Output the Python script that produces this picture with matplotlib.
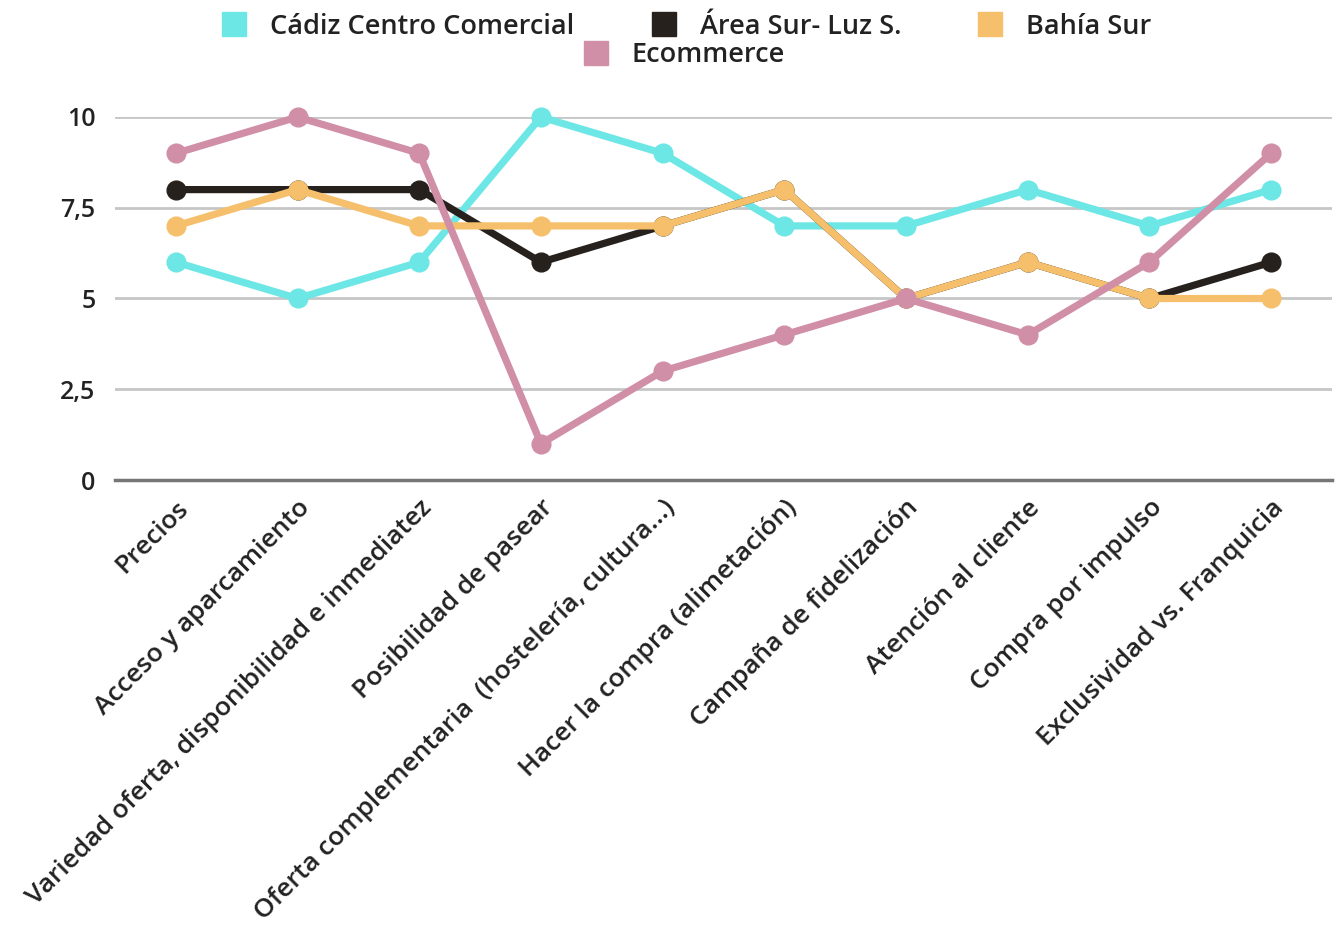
import matplotlib
matplotlib.use("Agg")
import matplotlib.pyplot as plt
from matplotlib.lines import Line2D

categories = [
    "Precios",
    "Acceso y aparcamiento",
    "Variedad oferta, disponibilidad e inmediatez",
    "Posibilidad de pasear",
    "Oferta complementaria  (hostelería, cultura...)",
    "Hacer la compra (alimetación)",
    "Campaña de fidelización",
    "Atención al cliente",
    "Compra por impulso",
    "Exclusividad vs. Franquicia",
]
series_names = ["Cádiz Centro Comercial", "Área Sur- Luz S.", "Bahía Sur", "Ecommerce"]
cadiz = [6, 5, 6, 10, 9, 7, 7, 8, 7, 8]
area_sur = [8, 8, 8, 6, 7, 8, 5, 6, 5, 6]
bahia_sur = [7, 8, 7, 7, 7, 8, 5, 6, 5, 5]
ecommerce = [9, 10, 9, 1, 3, 4, 5, 4, 6, 9]
yticks = [0, 2.5, 5, 7.5, 10]
ytick_labels = ["0", "2,5", "5", "7,5", "10"]

colors = ["#6de6e6", "#27211e", "#f6bf6b", "#d08fa6"]
FONT = ["Open Sans", "DejaVu Sans"]
plt.rcParams["font.family"] = FONT
TXT = "#222222"

W, H = 1339, 932
fig = plt.figure(figsize=(W / 100, H / 100), dpi=100)
ax = fig.add_axes([115 / W, 1 - 480 / H, (1332 - 115) / W, (480 - 117) / H])

x = list(range(len(categories)))
for vals, c in zip([cadiz, area_sur, bahia_sur, ecommerce], colors):
    ax.plot(x, vals, color=c, lw=5.2, marker="o", ms=13.5, solid_joinstyle="round",
            clip_on=False, zorder=3)

ax.set_xlim(-0.5, len(categories) - 0.5)
ax.set_ylim(0, 10)
ax.set_yticks(yticks)
ax.set_yticklabels(ytick_labels, fontsize=18, fontweight="semibold", color=TXT)
for yv in yticks[1:]:
    ax.axhline(yv, color="#c6c6c6", lw=2, zorder=1)
ax.axhline(0, color="#767676", lw=2.5, zorder=2, clip_on=False)
for s in ax.spines.values():
    s.set_visible(False)
ax.tick_params(axis="y", length=0, pad=14)
ax.tick_params(axis="x", length=0, pad=11)
ax.set_xticks(x)
ax.set_xticklabels(categories, rotation=45, ha="right", va="top", rotation_mode="anchor",
                   fontsize=19, fontweight="semibold", color=TXT)

# legend built by hand: row 1 three entries, row 2 one centred entry
legend_pos = [(234, 24), (664, 24), (990, 24), (596, 53)]
for (px, py), c, name in zip(legend_pos, colors, series_names):
    fig.add_artist(Line2D([px / W], [1 - py / H], transform=fig.transFigure,
                          marker="s", ms=17, color=c, lw=0))
    fig.text((px + 36) / W, 1 - (py - 1) / H, name, ha="left", va="center_baseline",
             fontsize=19.5, fontweight="semibold", color=TXT)

fig.savefig("out.png", dpi=100, facecolor="white")
